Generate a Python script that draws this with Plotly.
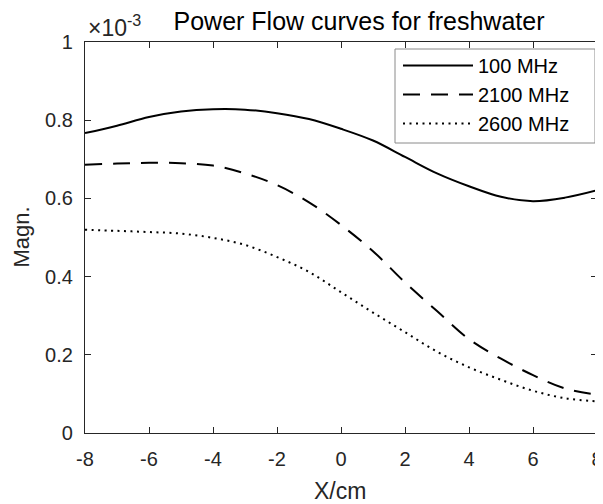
import plotly.graph_objects as go

x_cm = [-8, -7, -6, -5, -4, -3, -2, -1, 0, 1, 2, 3, 4, 5, 6, 7, 8]
mag_100MHz = [0.767, 0.786, 0.808, 0.822, 0.828, 0.827, 0.818, 0.803, 0.778,
              0.748, 0.706, 0.664, 0.631, 0.604, 0.593, 0.602, 0.621]
mag_2100MHz = [0.686, 0.689, 0.691, 0.690, 0.684, 0.664, 0.634, 0.590, 0.532,
               0.465, 0.385, 0.312, 0.240, 0.190, 0.148, 0.114, 0.098]
mag_2600MHz = [0.520, 0.517, 0.514, 0.510, 0.499, 0.481, 0.450, 0.412, 0.360,
               0.308, 0.258, 0.208, 0.168, 0.136, 0.108, 0.089, 0.081]
series_names = ["100 MHz", "2100 MHz", "2600 MHz"]
x_ticks = [-8, -6, -4, -2, 0, 2, 4, 6, 8]
y_ticks = [0, 0.2, 0.4, 0.6, 0.8, 1]
y_tick_text = ["0", "0.2", "0.4", "0.6", "0.8", "1"]

FONT = "Arial, Liberation Sans, Helvetica, sans-serif"
AX = "#262626"

# The page body has an 8px default margin, so the figure is drawn 8px in.
OFF = 8
W, H = 603 - OFF, 504 - OFF
L, R, T, B = 77, 6, 34, 71
plot_w = W - L - R
plot_h = H - T - B


def px(xp):
    """page x pixel -> paper x"""
    return (xp - OFF - L) / plot_w


def py(yp):
    """page y pixel -> paper y"""
    return (H - B - (yp - OFF)) / plot_h


fig = go.Figure()
dashes = ["solid", "17px,11px", "2px,4.5px"]
for name, ys, dsh in zip(series_names, [mag_100MHz, mag_2100MHz, mag_2600MHz], dashes):
    fig.add_trace(go.Scatter(
        x=x_cm, y=ys, name=name, mode="lines",
        line=dict(color="black", width=2, shape="spline", smoothing=1.0, dash=dsh),
    ))

axis_common = dict(
    showline=True, linecolor=AX, linewidth=1.3, mirror="ticks",
    ticks="inside", ticklen=6, tickcolor=AX, tickwidth=1.3,
    showgrid=False, zeroline=False, automargin=False,
    ticklabeloverflow="allow",
    tickfont=dict(family=FONT, size=20, color=AX),
)

fig.update_layout(
    width=W, height=H,
    margin=dict(l=L, r=R, t=T, b=B, autoexpand=False),
    paper_bgcolor="white", plot_bgcolor="white",
    font=dict(family=FONT, color=AX),
    xaxis=dict(range=[-8, 8], tickvals=x_ticks, ticktext=[str(v) for v in x_ticks],
               ticklabelstandoff=8, **axis_common),
    yaxis=dict(range=[0, 1], tickvals=y_ticks, ticktext=y_tick_text,
               ticklabelstandoff=7, **axis_common),
    title=dict(text="Power Flow curves for freshwater", x=(359 - OFF) / W, xanchor="center",
               y=1 - (21.5 - OFF) / H, yanchor="middle",
               font=dict(family=FONT, size=25, color="black")),
    legend=dict(
        x=px(398), xanchor="left", y=py(46), yanchor="top",
        bgcolor="rgba(0,0,0,0)", borderwidth=0,
        font=dict(family=FONT, size=20, color="black"),
        itemwidth=70, tracegroupgap=0,
    ),
    showlegend=True,
)

# legend frame
fig.add_shape(type="rect", xref="paper", yref="paper",
              x0=px(395), x1=px(595), y0=py(143), y1=py(49),
              line=dict(color="#8a8a8a", width=1), fillcolor="white", layer="above")

# axis labels
fig.add_annotation(
    text="X/cm", xref="paper", yref="paper",
    x=px(340), y=py(491), xanchor="center", yanchor="middle",
    showarrow=False, font=dict(family=FONT, size=23, color=AX),
)
fig.add_annotation(
    text="Magn.", xref="paper", yref="paper", textangle=-90,
    x=px(21), y=0.5, xanchor="center", yanchor="middle",
    showarrow=False, font=dict(family=FONT, size=22, color=AX),
)
# exponent label
fig.add_annotation(
    text="×10<sup>-3</sup>", xref="paper", yref="paper",
    x=px(86), y=py(43), xanchor="left", yanchor="bottom",
    showarrow=False, font=dict(family=FONT, size=23, color=AX),
)

fig.write_html("out.html")
